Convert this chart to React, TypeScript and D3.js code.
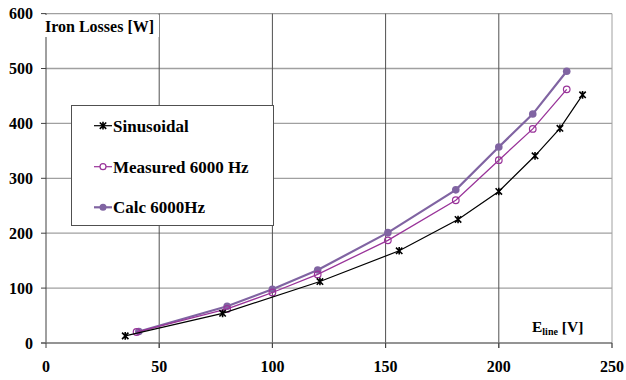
import { useEffect, useRef } from "react";
import * as d3 from "d3";

// Iron losses vs line voltage
const sinX = [35, 78, 121, 156, 182, 200, 216, 227, 237];
const sinY = [13, 54, 112, 168, 225, 276, 341, 391, 452];

const measX = [40, 80, 100, 120, 151, 181, 200, 215, 230];
const measY = [20, 62, 92, 125, 187, 260, 333, 390, 462];

const calcX = [41, 80, 100, 120, 151, 181, 200, 215, 230];
const calcY = [21, 67, 98, 133, 201, 279, 357, 417, 495];

const xTicks = [0, 50, 100, 150, 200, 250];
const yTicks = [0, 100, 200, 300, 400, 500, 600];

const seriesNames = ["Sinusoidal", "Measured 6000 Hz", "Calc 6000Hz"];

const W = 626;
const H = 380;
const FONT = "Liberation Serif, Times New Roman, Times, DejaVu Serif, serif";

export default function App() {
  const svgRef = useRef<SVGSVGElement>(null);

  useEffect(() => {
    if (!svgRef.current) return;
    const svg = d3.select(svgRef.current);
    svg.selectAll("*").remove();

    const x = d3.scaleLinear().domain([0, 250]).range([46, 612]);
    const y = d3.scaleLinear().domain([0, 600]).range([343, 13.6]);

    const g = svg.append("g").style("font-family", FONT).style("font-weight", "bold");

    // horizontal grid
    g.selectAll(".hgrid")
      .data(yTicks.filter(d => d > 0))
      .enter()
      .append("line")
      .attr("x1", x(0))
      .attr("x2", x(250))
      .attr("y1", d => y(d))
      .attr("y2", d => y(d))
      .attr("stroke", "#a0a0a0")
      .attr("stroke-width", 1.3);

    // vertical grid
    g.selectAll(".vgrid")
      .data(xTicks.filter(d => d > 0))
      .enter()
      .append("line")
      .attr("x1", d => x(d))
      .attr("x2", d => x(d))
      .attr("y1", y(600))
      .attr("y2", y(0) + 5)
      .attr("stroke", d => (d === 250 ? "#a0a0a0" : "#505050"))
      .attr("stroke-width", 1);

    // y axis
    g.append("line")
      .attr("x1", x(0)).attr("x2", x(0))
      .attr("y1", y(600)).attr("y2", y(0))
      .attr("stroke", "#404040");
    g.selectAll(".ytick")
      .data(yTicks)
      .enter()
      .append("line")
      .attr("x1", x(0) - 5).attr("x2", x(0))
      .attr("y1", d => y(d)).attr("y2", d => y(d))
      .attr("stroke", "#404040");

    // x axis
    g.append("line")
      .attr("x1", x(0) - 5).attr("x2", x(250))
      .attr("y1", y(0)).attr("y2", y(0))
      .attr("stroke", "#707070")
      .attr("stroke-width", 1.5);
    g.selectAll(".xtick")
      .data(xTicks)
      .enter()
      .append("line")
      .attr("x1", d => x(d)).attr("x2", d => x(d))
      .attr("y1", y(0)).attr("y2", y(0) + 5)
      .attr("stroke", "#404040");

    // tick labels
    g.selectAll(".ylab")
      .data(yTicks)
      .enter()
      .append("text")
      .attr("x", 33)
      .attr("y", d => y(d))
      .attr("dy", "0.35em")
      .attr("text-anchor", "end")
      .style("font-size", "16px")
      .text(d => d);

    g.selectAll(".xlab")
      .data(xTicks)
      .enter()
      .append("text")
      .attr("x", d => x(d))
      .attr("y", 372)
      .attr("text-anchor", "middle")
      .style("font-size", "16px")
      .text(d => d);

    // axis titles with white background
    g.append("rect")
      .attr("x", 44).attr("y", 15)
      .attr("width", 115).attr("height", 22)
      .attr("fill", "#fff");
    g.append("text")
      .attr("x", 45)
      .attr("y", 32)
      .style("font-size", "16px")
      .text("Iron Losses [W]");

    const xt = g.append("text")
      .attr("x", 532)
      .attr("y", 332)
      .style("font-size", "15.5px");
    xt.append("tspan").text("E");
    xt.append("tspan").style("font-size", "10px").attr("dy", 3).text("line");
    xt.append("tspan").attr("dy", -3).text(" [V]");

    const line = d3.line<[number, number]>().x(d => x(d[0])).y(d => y(d[1]));

    const sinPts = sinX.map((v, i) => [v, sinY[i]] as [number, number]);
    const measPts = measX.map((v, i) => [v, measY[i]] as [number, number]);
    const calcPts = calcX.map((v, i) => [v, calcY[i]] as [number, number]);

    const starPath = (cx: number, cy: number, r: number) =>
      `M${cx - r},${cy - r}L${cx + r},${cy + r}M${cx - r},${cy + r}L${cx + r},${cy - r}M${cx},${cy - r * 1.2}L${cx},${cy + r * 1.2}`;

    // Calc 6000Hz
    g.append("path")
      .attr("d", line(calcPts) || "")
      .attr("fill", "none")
      .attr("stroke", "#8064a2")
      .attr("stroke-width", 2.2);
    g.selectAll(".calc")
      .data(calcPts)
      .enter()
      .append("circle")
      .attr("cx", d => x(d[0]))
      .attr("cy", d => y(d[1]))
      .attr("r", 3.8)
      .attr("fill", "#8064a2");

    // Measured 6000 Hz
    g.append("path")
      .attr("d", line(measPts) || "")
      .attr("fill", "none")
      .attr("stroke", "#993399")
      .attr("stroke-width", 1.3);
    g.selectAll(".meas")
      .data(measPts)
      .enter()
      .append("circle")
      .attr("cx", d => x(d[0]))
      .attr("cy", d => y(d[1]))
      .attr("r", 3.3)
      .attr("fill", "none")
      .attr("stroke", "#993399")
      .attr("stroke-width", 1.2);

    // Sinusoidal
    g.append("path")
      .attr("d", line(sinPts) || "")
      .attr("fill", "none")
      .attr("stroke", "#000")
      .attr("stroke-width", 1.2);
    g.selectAll(".sin")
      .data(sinPts)
      .enter()
      .append("path")
      .attr("d", d => starPath(x(d[0]), y(d[1]), 3.2))
      .attr("stroke", "#000")
      .attr("stroke-width", 1.6);

    // Legend
    const legend = g.append("g");
    legend.append("rect")
      .attr("x", 71.5).attr("y", 105.5)
      .attr("width", 202).attr("height", 120)
      .attr("fill", "#fff")
      .attr("stroke", "#505050")
      .attr("stroke-width", 1);

    const rowsY = [125.7, 166.7, 207.3];
    const colors = ["#000", "#993399", "#8064a2"];
    seriesNames.forEach((name, i) => {
      const cy = rowsY[i];
      legend.append("line")
        .attr("x1", 94).attr("x2", 112)
        .attr("y1", cy).attr("y2", cy)
        .attr("stroke", colors[i])
        .attr("stroke-width", i === 2 ? 2.2 : 1.2);
      if (i === 0) {
        legend.append("path")
          .attr("d", starPath(103, cy, 3.2))
          .attr("stroke", "#000")
          .attr("stroke-width", 1.6);
      } else if (i === 1) {
        legend.append("circle")
          .attr("cx", 103).attr("cy", cy).attr("r", 3)
          .attr("fill", "#fff")
          .attr("stroke", colors[i])
          .attr("stroke-width", 1.2);
      } else {
        legend.append("circle")
          .attr("cx", 103).attr("cy", cy).attr("r", 3.5)
          .attr("fill", colors[i]);
      }
      legend.append("text")
        .attr("x", 113)
        .attr("y", cy)
        .attr("dy", "0.35em")
        .style("font-size", "17px")
        .text(name);
    });
  }, []);

  return (
    <svg
      ref={svgRef}
      width={W}
      height={H}
      style={{ position: "absolute", left: 0, top: 0, background: "#fff" }}
    />
  );
}
